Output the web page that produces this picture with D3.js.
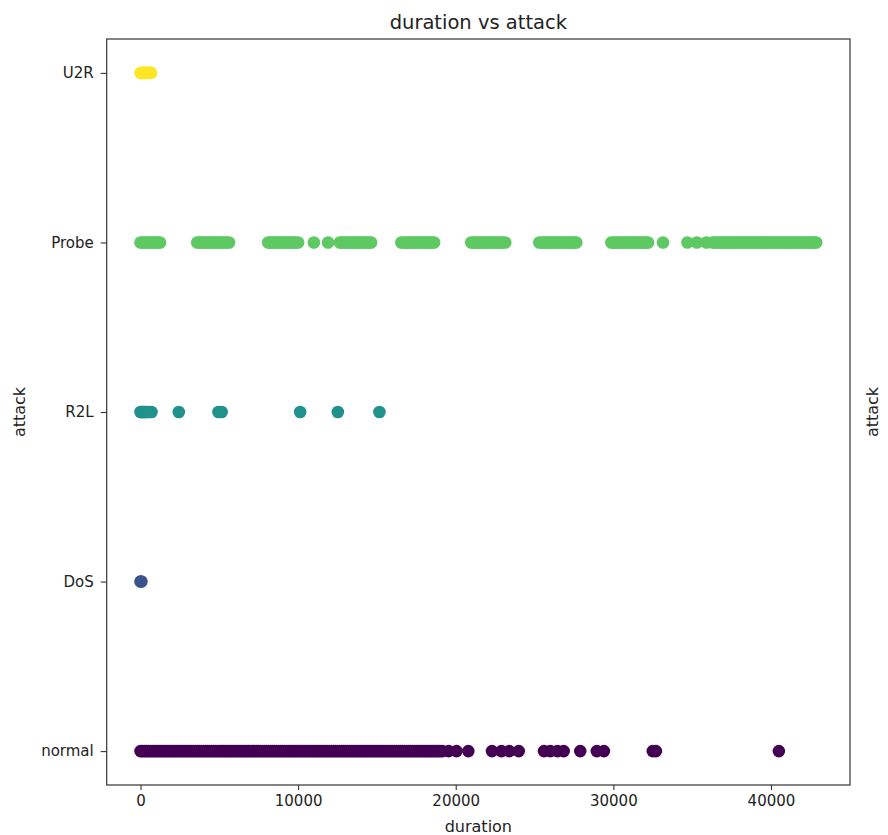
<!DOCTYPE html>
<html>
<head>
<meta charset="utf-8">
<script src="https://cdn.jsdelivr.net/npm/d3@7"></script>
<style>
  html, body { margin: 0; padding: 0; background: #fff; }
  svg { display: block; font-family: "DejaVu Sans", sans-serif; }
</style>
</head>
<body>
<svg id="chart" width="888" height="835"></svg>
<script>
// ---- data ----
const categories = ["normal", "DoS", "R2L", "Probe", "U2R"];
const categoryColors = ["#440154", "#3b528b", "#21918c", "#5ec962", "#fde725"];

const normalDurations = [0,125,250,375,500,625,750,875,1000,1125,1250,1375,1500,1625,1750,1875,2000,2125,2250,2375,2500,2625,2750,2875,3000,3125,3250,3375,3500,3625,3750,3875,4000,4125,4250,4375,4500,4625,4750,4875,5000,5125,5250,5375,5500,5625,5750,5875,6000,6125,6250,6375,6500,6625,6750,6875,7000,7125,7250,7375,7500,7625,7750,7875,8000,8125,8250,8375,8500,8625,8750,8875,9000,9125,9250,9375,9500,9625,9750,9875,10000,10125,10250,10375,10500,10625,10750,10875,11000,11125,11250,11375,11500,11625,11750,11875,12000,12125,12250,12375,12500,12625,12750,12875,13000,13125,13250,13375,13500,13625,13750,13875,14000,14125,14250,14375,14500,14625,14750,14875,15000,15125,15250,15375,15500,15625,15750,15875,16000,16125,16250,16375,16500,16625,16750,16875,17000,17125,17250,17375,17500,17625,17750,17875,18000,18125,18250,18375,18500,18625,18750,18875,19000,19150,19550,20050,20800,22300,22900,23400,24000,25600,26000,26450,26850,27900,28950,29400,32500,32700,40500];
const dosDurations = [0, 60];
const r2lDurations = [0,60,120,180,250,325,400,550,700,2430,4950,5150,10130,12520,15160];
const probeDurations = [0,125,250,375,500,625,750,875,1000,1125,1240,
  3600,3725,3850,3975,4100,4225,4350,4475,4600,4725,4850,4975,5100,5225,5350,5475,5620,
  8100,8225,8350,8475,8600,8725,8850,8975,9100,9225,9350,9475,9600,9725,9850,10000,
  11000,11900,
  12650,12775,12900,13025,13150,13275,13400,13525,13650,13775,13900,14025,14150,14275,14400,14525,14630,
  16550,16675,16800,16925,17050,17175,17300,17425,17550,17675,17800,17925,18050,18175,18300,18425,18525,18630,
  20980,21100,21225,21350,21475,21600,21725,21850,21975,22100,22225,22350,22475,22600,22725,22850,22975,23140,
  25300,25425,25550,25675,25800,25925,26050,26175,26300,26425,26550,26675,26800,26925,27050,27175,27300,27425,27550,27650,
  29870,30000,30125,30250,30375,30500,30625,30750,30875,31000,31125,31250,31375,31500,31625,31750,31875,32000,32100,32200,
  33150,34700,35300,35900,
  36300,36425,36550,36675,36800,36925,37050,37175,37300,37425,37550,37675,37800,37925,38050,38175,38300,38425,38550,38675,38800,38925,39050,39175,39300,39425,39550,39675,39800,39925,40050,40175,40300,40425,40550,40675,40800,40925,41050,41175,41300,41425,41550,41675,41800,41925,42050,42175,42300,42425,42550,42675,42775,42870];
const u2rDurations = [0,75,150,225,300,375,450,560,670];

const xTicks = [0, 10000, 20000, 30000, 40000];
const titleText = "duration vs attack";
const xLabel = "duration";
const yLabel = "attack";

// ---- build points ----
const seriesDurations = [normalDurations, dosDurations, r2lDurations, probeDurations, u2rDurations];
const points = [];
seriesDurations.forEach((arr, ci) => arr.forEach(d => points.push({ x: d, c: ci })));

// ---- layout ----
const svg = d3.select("#chart");
const plot = { left: 106.7, right: 850, top: 39, bottom: 785 };

const xmin = d3.min(points, d => d.x), xmax = d3.max(points, d => d.x);
const xpad = (xmax - xmin) * 0.05;
const x = d3.scaleLinear().domain([xmin - xpad, xmax + xpad]).range([plot.left, plot.right]);
const y = d3.scaleLinear().domain([-0.2, categories.length - 1 + 0.2]).range([plot.bottom, plot.top]);

// points
svg.append("g").selectAll("circle").data(points).join("circle")
  .attr("cx", d => x(d.x))
  .attr("cy", d => y(d.c))
  .attr("r", 6.3)
  .attr("fill", d => categoryColors[d.c]);

// frame
svg.append("rect")
  .attr("x", plot.left).attr("y", plot.top)
  .attr("width", plot.right - plot.left).attr("height", plot.bottom - plot.top)
  .attr("fill", "none").attr("stroke", "#333").attr("stroke-width", 1.2);

// x axis
const xAxis = svg.append("g").attr("transform", `translate(0,${plot.bottom})`)
  .call(d3.axisBottom(x).tickValues(xTicks).tickFormat(d3.format("d")).tickSize(5).tickPadding(5));
xAxis.select(".domain").remove();
xAxis.selectAll(".tick line").attr("stroke", "#333").attr("stroke-width", 1.1);
xAxis.selectAll(".tick text").attr("font-size", 15).attr("fill", "#222")
  .attr("font-family", "DejaVu Sans");

// y axis
const yAxis = svg.append("g").attr("transform", `translate(${plot.left},0)`)
  .call(d3.axisLeft(y).tickValues(d3.range(categories.length)).tickFormat(i => categories[i]).tickSize(6).tickPadding(7));
yAxis.select(".domain").remove();
yAxis.selectAll(".tick line").attr("stroke", "#333").attr("stroke-width", 1.1);
yAxis.selectAll(".tick text").attr("font-size", 15).attr("fill", "#222")
  .attr("font-family", "DejaVu Sans");

// title
svg.append("text").attr("x", (plot.left + plot.right) / 2).attr("y", 29)
  .attr("text-anchor", "middle").attr("font-size", 19.5).attr("fill", "#222").text(titleText);

// x label
svg.append("text").attr("x", (plot.left + plot.right) / 2).attr("y", 832)
  .attr("text-anchor", "middle").attr("font-size", 16).attr("fill", "#222").text(xLabel);

// y label (left)
svg.append("text").attr("transform", `translate(25,${(plot.top + plot.bottom) / 2}) rotate(-90)`)
  .attr("text-anchor", "middle").attr("font-size", 16).attr("fill", "#222").text(yLabel);

// y label (right)
svg.append("text").attr("transform", `translate(878,${(plot.top + plot.bottom) / 2}) rotate(-90)`)
  .attr("text-anchor", "middle").attr("font-size", 16).attr("fill", "#222").text(yLabel);
</script>
</body>
</html>
